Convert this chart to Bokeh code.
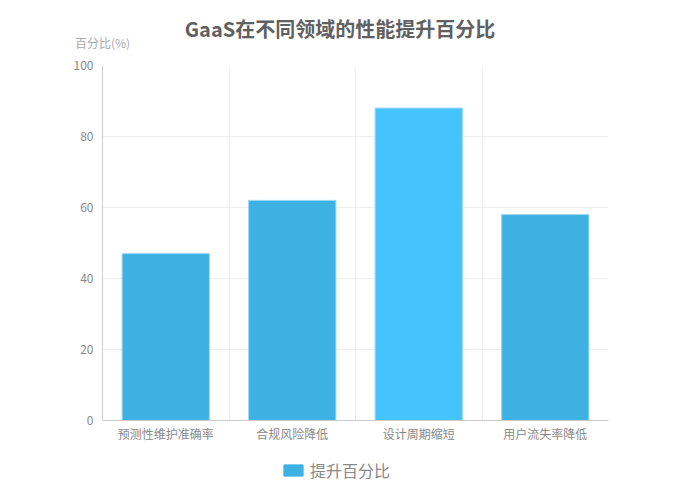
from bokeh.plotting import figure
from bokeh.layouts import column
from bokeh.models import (Range1d, FixedTicker, Legend, LegendItem, Div,
                          ColumnDataSource)
from bokeh.embed import file_html
from bokeh.resources import INLINE

categories = ["预测性维护准确率", "合规风险降低", "设计周期缩短", "用户流失率降低"]
values = [47, 62, 88, 58]
colors = ["#3eb1e3", "#3eb1e3", "#45c3fb", "#3eb1e3"]
y_ticks = [0, 20, 40, 60, 80, 100]
series_name = "提升百分比"
title_text = "GaaS在不同领域的性能提升百分比"
y_name = "百分比(%)"

FONT = "Noto Sans CJK SC"
W = 675
H_HEAD, H_MAIN, H_LEG = 50, 405, 45
LEFT, RIGHT = 102, 67   # frame borders (frames are aligned across the column)


def bare(fig):
    fig.axis.visible = False
    fig.grid.visible = False
    fig.outline_line_color = None
    fig.background_fill_color = "white"
    fig.border_fill_color = "white"


# ---- header: title + y-axis name ----
head_html = (
    f'<div style="position:relative;width:{W}px;height:{H_HEAD}px;margin:0;padding:0;">'
    f'<div style="position:absolute;left:0;top:18px;width:680px;text-align:center;'
    f"font-family:'{FONT}';font-size:20px;font-weight:bold;line-height:22px;"
    f'color:#606060;white-space:nowrap;">{title_text}</div>'
    f'<div style="position:absolute;left:75px;top:36px;'
    f"font-family:'{FONT}';font-size:12px;line-height:14px;"
    f'color:#aaaaaa;white-space:nowrap;">{y_name}</div>'
    '</div>'
)
head = Div(text=head_html, width=W, height=H_HEAD, margin=0,
           styles={"margin": "0", "padding": "0"})

# ---- main chart ----
xs = [i + 0.5 for i in range(len(categories))]
src = ColumnDataSource(dict(x=xs, top=values, color=colors, cat=categories))

p = figure(width=W, height=H_MAIN, output_backend="svg", toolbar_location=None,
           x_range=Range1d(0, len(categories)), y_range=Range1d(0, 100),
           min_border_left=LEFT, min_border_right=RIGHT, min_border_top=15, min_border_bottom=35)
p.outline_line_color = None
p.background_fill_color = "white"
p.border_fill_color = "white"

p.vbar(x="x", top="top", width=0.69, bottom=0, fill_color="color",
       line_color="#9ad8f4", line_width=1, source=src)

p.xaxis.ticker = FixedTicker(ticks=xs)
p.xaxis.major_label_overrides = {x: c for x, c in zip(xs, categories)}
p.xaxis.major_tick_line_color = None
p.xaxis.minor_tick_line_color = None
p.xaxis.axis_line_color = "#cccccc"
p.xaxis.major_label_text_color = "#888888"
p.xaxis.major_label_text_font = FONT
p.xaxis.major_label_text_font_size = "12px"
p.xaxis.major_label_standoff = -2

p.yaxis.ticker = FixedTicker(ticks=y_ticks)
p.yaxis.major_tick_line_color = None
p.yaxis.minor_tick_line_color = None
p.yaxis.axis_line_color = "#cccccc"
p.yaxis.major_label_text_color = "#888888"
p.yaxis.major_label_text_font = FONT
p.yaxis.major_label_text_font_size = "12px"
p.yaxis.major_label_standoff = 3

p.xgrid.ticker = FixedTicker(ticks=list(range(len(categories) + 1)))
p.xgrid.grid_line_color = "#eeeeee"
p.ygrid.grid_line_color = "#eeeeee"

# ---- legend strip (hidden copy of the series supplies the legend swatch) ----
leg = figure(width=W, height=H_LEG, output_backend="svg", toolbar_location=None,
             x_range=Range1d(0, len(categories)), y_range=Range1d(0, 100),
             min_border_left=LEFT, min_border_right=RIGHT, min_border_top=0, min_border_bottom=0)
bare(leg)
r_leg = leg.vbar(x="x", top="top", width=0.69, bottom=0, fill_color="color",
                 line_color="color", source=src)
r_leg.visible = False
legend = Legend(items=[LegendItem(label=series_name, renderers=[r_leg], index=0)],
                orientation="horizontal", location=(281 - LEFT, 18),
                label_text_font=FONT, label_text_font_size="16px", label_text_color="#888888",
                label_text_baseline="middle",
                glyph_width=24, glyph_height=14, label_height=14, border_line_color=None,
                background_fill_alpha=0, padding=0, margin=0, label_standoff=5,
                inactive_fill_alpha=0)
leg.add_layout(legend, "center")

layout = column(head, p, leg, spacing=0)
open("out.html", "w").write(file_html(layout, INLINE))
